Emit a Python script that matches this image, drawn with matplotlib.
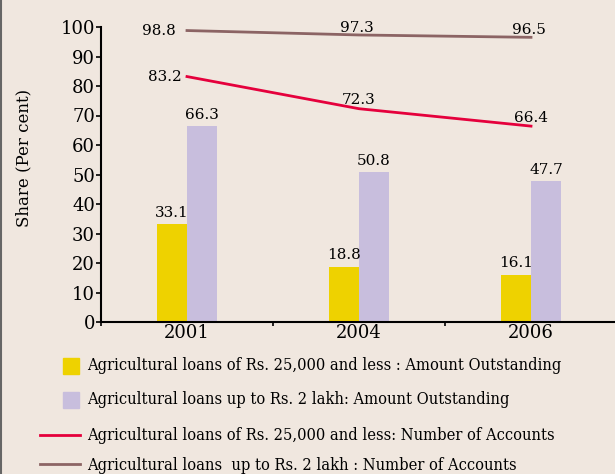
import numpy as np
import matplotlib.pyplot as plt
from matplotlib.patches import Rectangle
from matplotlib.lines import Line2D

# Datos
years = ['2001', '2004', '2006']
amt_25k = [33.1, 18.8, 16.1]
amt_2lakh = [66.3, 50.8, 47.7]
acc_25k = [83.2, 72.3, 66.4]
acc_2lakh = [98.8, 97.3, 96.5]

labels = [
    'Agricultural loans of Rs. 25,000 and less : Amount Outstanding',
    'Agricultural loans up to Rs. 2 lakh: Amount Outstanding',
    'Agricultural loans of Rs. 25,000 and less: Number of Accounts',
    'Agricultural loans  up to Rs. 2 lakh : Number of Accounts',
]

bg = '#F0E7DF'
c_yellow = '#EED200'
c_purple = '#C8BEDD'
c_red = '#E5003C'
c_brown = '#8C6464'

plt.rcParams['font.family'] = 'DejaVu Serif'

W, H = 615, 474
fig = plt.figure(figsize=(W / 100, H / 100), dpi=100, facecolor=bg)
ax = fig.add_axes([101 / W, 1 - 322 / H, (617 - 101) / W, (322 - 27) / H])
ax.set_facecolor(bg)

x = np.arange(len(years))
bw = 0.175
ax.bar(x - bw / 2, amt_25k, width=bw, color=c_yellow, zorder=2)
ax.bar(x + bw / 2, amt_2lakh, width=bw, color=c_purple, zorder=2)
ax.plot(x, acc_25k, color=c_red, lw=2, zorder=3)
ax.plot(x, acc_2lakh, color=c_brown, lw=2, zorder=3)

fs = 11
for i in range(len(years)):
    ax.text(x[i] - bw / 2, amt_25k[i] + 1.5, f'{amt_25k[i]}', ha='center', va='bottom', fontsize=fs)
    ax.text(x[i] + bw / 2, amt_2lakh[i] + 1.5, f'{amt_2lakh[i]}', ha='center', va='bottom', fontsize=fs)

# etiquetas de las líneas
ax.text(x[0] - 0.065, acc_2lakh[0], f'{acc_2lakh[0]}', ha='right', va='center', fontsize=fs)
ax.text(x[0] - 0.03, acc_25k[0], f'{acc_25k[0]}', ha='right', va='center', fontsize=fs)
for i in [1, 2]:
    ax.text(x[i] - 0.01, acc_2lakh[i] + 0.1, f'{acc_2lakh[i]}', ha='center', va='bottom', fontsize=fs)
    ax.text(x[i], acc_25k[i] + 0.5, f'{acc_25k[i]}', ha='center', va='bottom', fontsize=fs)

ax.set_xlim(-0.5, 2.5)
ax.set_ylim(0, 100)
ax.set_yticks(np.arange(0, 101, 10))
ax.set_xticks(x)
ax.set_xticklabels(years)
ax.set_xticks([-0.5, 0.5, 1.5], minor=True)
ax.tick_params(axis='x', which='major', length=0, labelsize=13, pad=1.5)
ax.tick_params(axis='x', which='minor', length=3, width=1.2, direction='out')
ax.tick_params(axis='y', length=3.6, width=1.2, labelsize=13, pad=0.8)
for s in ['top', 'right']:
    ax.spines[s].set_visible(False)
for s in ['left', 'bottom']:
    ax.spines[s].set_linewidth(1.5)
ax.set_ylabel('Share (Per cent)', fontsize=12)
ax.yaxis.set_label_coords(-0.133, 0.556)

# leyenda manual
ys = [366, 400, 435, 464]
for k, y in enumerate(ys):
    fy = 1 - y / H
    if k < 2:
        col = c_yellow if k == 0 else c_purple
        fig.add_artist(Rectangle((63 / W, fy - 8 / H), 16 / W, 16 / H,
                                 transform=fig.transFigure, color=col))
    else:
        col = c_red if k == 2 else c_brown
        fig.add_artist(Line2D([40 / W, 80 / W], [fy, fy], transform=fig.transFigure,
                              color=col, lw=2))
    fig.text(87 / W, fy + (-2 / H if k == 3 else 0), labels[k], ha='left', va='center',
             fontsize=11.8, fontstretch='condensed')

# borde izquierdo
fig.add_artist(Line2D([0.0015, 0.0015], [0, 1], transform=fig.transFigure, color='#666666', lw=1.5))

plt.savefig('out.png', dpi=100, facecolor=bg)
